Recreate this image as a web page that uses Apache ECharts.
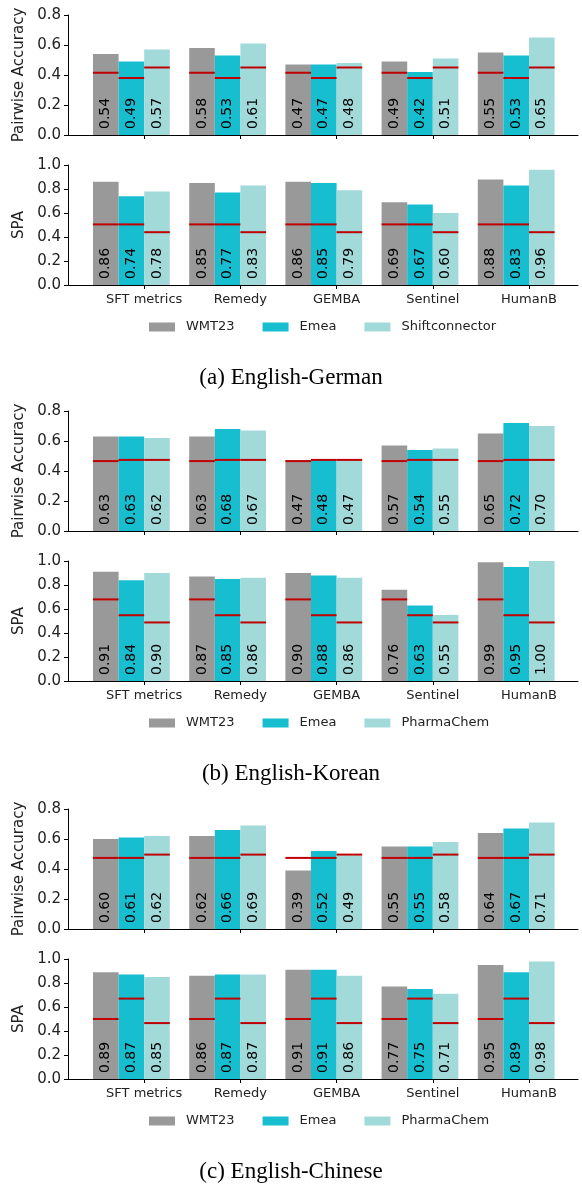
<!DOCTYPE html>
<html>
<head>
<meta charset="utf-8">
<title>Pairwise Accuracy and SPA by language pair</title>
<script src="https://cdn.jsdelivr.net/npm/echarts@6.0.0/dist/echarts.min.js"></script>
<style>
html, body { margin: 0; padding: 0; background: #fff; }
#chart { width: 582px; height: 1184px; }
</style>
</head>
<body>
<div id="chart"></div>
<script>
const categories = ['SFT metrics', 'Remedy', 'GEMBA', 'Sentinel', 'HumanB'];
const namesDe = ['WMT23', 'Emea', 'Shiftconnector'];
const namesKoZh = ['WMT23', 'Emea', 'PharmaChem'];
const colors = ['#999999', '#17becf', '#a2dada'];

// (a) English-German
const dePairWmt = [0.54, 0.58, 0.47, 0.49, 0.55];
const dePairEmea = [0.49, 0.53, 0.47, 0.42, 0.53];
const dePairShift = [0.57, 0.61, 0.48, 0.51, 0.65];
const dePairRef = [0.415, 0.38, 0.45];
const deSpaWmt = [0.86, 0.85, 0.86, 0.69, 0.88];
const deSpaEmea = [0.74, 0.77, 0.85, 0.67, 0.83];
const deSpaShift = [0.78, 0.83, 0.79, 0.60, 0.96];
const deSpaRef = [0.505, 0.505, 0.44];

// (b) English-Korean
const koPairWmt = [0.63, 0.63, 0.47, 0.57, 0.65];
const koPairEmea = [0.63, 0.68, 0.48, 0.54, 0.72];
const koPairPharma = [0.62, 0.67, 0.47, 0.55, 0.70];
const koPairRef = [0.466, 0.474, 0.474];
const koSpaWmt = [0.91, 0.87, 0.90, 0.76, 0.99];
const koSpaEmea = [0.84, 0.85, 0.88, 0.63, 0.95];
const koSpaPharma = [0.90, 0.86, 0.86, 0.55, 1.00];
const koSpaRef = [0.68, 0.548, 0.488];

// (c) English-Chinese
const zhPairWmt = [0.60, 0.62, 0.39, 0.55, 0.64];
const zhPairEmea = [0.61, 0.66, 0.52, 0.55, 0.67];
const zhPairPharma = [0.62, 0.69, 0.49, 0.58, 0.71];
const zhPairRef = [0.474, 0.474, 0.496];
const zhSpaWmt = [0.89, 0.86, 0.91, 0.77, 0.95];
const zhSpaEmea = [0.87, 0.87, 0.91, 0.75, 0.89];
const zhSpaPharma = [0.85, 0.87, 0.86, 0.71, 0.98];
const zhSpaRef = [0.50, 0.67, 0.466];

const panels = [
  { caption: '(a) English-German', names: namesDe, dy: 0,
    pair: [dePairWmt, dePairEmea, dePairShift], pairRef: dePairRef,
    spa: [deSpaWmt, deSpaEmea, deSpaShift], spaRef: deSpaRef },
  { caption: '(b) English-Korean', names: namesKoZh, dy: 396,
    pair: [koPairWmt, koPairEmea, koPairPharma], pairRef: koPairRef,
    spa: [koSpaWmt, koSpaEmea, koSpaPharma], spaRef: koSpaRef },
  { caption: '(c) English-Chinese', names: namesKoZh, dy: 794,
    pair: [zhPairWmt, zhPairEmea, zhPairPharma], pairRef: zhPairRef,
    spa: [zhSpaWmt, zhSpaEmea, zhSpaPharma], spaRef: zhSpaRef }
];

// layout (px)
const FRAME_LEFT = 68, FRAME_W = 510;
const BAR_LEFT = 83.3, BAND_W = 481, BAR_W = 25.6;
const TICK_LEFT = BAR_LEFT + BAR_W / 2;
const PLOT_H = 120;

const grid = [], xAxis = [], yAxis = [], series = [], legend = [], title = [];

function refLine(slot) {
  return function (params, api) {
    const p = api.coord([api.value(0), api.value(1)]);
    const x0 = p[0] + (slot - 1.5) * BAR_W;
    return {
      type: 'line',
      shape: { x1: x0, y1: p[1], x2: x0 + BAR_W, y2: p[1] },
      style: { stroke: '#c00000', lineWidth: 2 }
    };
  };
}

function addPlot(top, yMax, yName, values, refs, names, showLabels) {
  const g = grid.length;
  // frame: y axis + bottom spine
  grid.push({ left: FRAME_LEFT, top: top, width: FRAME_W, height: PLOT_H });
  xAxis.push({ gridIndex: g, type: 'category', data: categories,
    axisLine: { lineStyle: { color: '#000', width: 1 } },
    axisTick: { show: false }, axisLabel: { show: false } });
  yAxis.push({ gridIndex: g, type: 'value', min: 0, max: yMax, interval: 0.2,
    axisLine: { show: true, lineStyle: { color: '#000', width: 1 } },
    axisTick: { show: true, length: 4, lineStyle: { color: '#000' } },
    axisLabel: { fontSize: 15, color: '#222', margin: 7, formatter: v => v.toFixed(1) },
    splitLine: { show: false },
    name: yName, nameLocation: 'middle', nameGap: 36,
    nameTextStyle: { fontSize: 15, color: '#222' } });

  // bars
  grid.push({ left: BAR_LEFT, top: top, width: BAND_W, height: PLOT_H });
  xAxis.push({ gridIndex: g + 1, type: 'category', data: categories, show: false });
  yAxis.push({ gridIndex: g + 1, type: 'value', min: 0, max: yMax, show: false });
  values.forEach((vals, j) => {
    series.push({
      name: names[j], type: 'bar', xAxisIndex: g + 1, yAxisIndex: g + 1,
      data: vals, barWidth: BAR_W, barGap: '0%',
      itemStyle: { color: colors[j] },
      label: { show: true, position: 'insideBottom', rotate: 90, align: 'left',
        verticalAlign: 'middle', distance: 6, fontSize: 14, color: '#000',
        formatter: p => p.value.toFixed(2) },
      emphasis: { disabled: true }
    });
  });
  refs.forEach((lvl, j) => {
    series.push({
      name: 'ref-' + j, type: 'custom', xAxisIndex: g + 1, yAxisIndex: g + 1,
      data: categories.map(c => [c, lvl]), renderItem: refLine(j), z: 5
    });
  });

  // ticks + category labels
  grid.push({ left: TICK_LEFT, top: top, width: BAND_W, height: PLOT_H });
  xAxis.push({ gridIndex: g + 2, type: 'category', data: categories,
    axisLine: { show: false },
    axisTick: { show: true, alignWithLabel: true, interval: 0, length: 4, lineStyle: { color: '#000' } },
    axisLabel: { show: showLabels, interval: 0, fontSize: 13, color: '#222', margin: 8 } });
  yAxis.push({ gridIndex: g + 2, type: 'value', min: 0, max: yMax, show: false });
}

panels.forEach(p => {
  addPlot(15 + p.dy, 0.8, 'Pairwise Accuracy', p.pair, p.pairRef, p.names, false);
  addPlot(165 + p.dy, 1.0, 'SPA', p.spa, p.spaRef, p.names, true);
  legend.push({ data: p.names, left: 149, top: 320.5 + p.dy, padding: 0,
    icon: 'rect', itemWidth: 26, itemHeight: 9, itemGap: 28,
    textStyle: { fontSize: 13, color: '#222', padding: [0, 0, 0, 6] } });
  title.push({ text: p.caption, left: 'center', top: 366 + p.dy, padding: 0,
    textStyle: { fontFamily: 'Liberation Serif', fontSize: 23, fontWeight: 'normal', color: '#000' } });
});

const chart = echarts.init(document.getElementById('chart'));
chart.setOption({
  animation: false,
  textStyle: { fontFamily: 'DejaVu Sans' },
  title: title,
  legend: legend,
  grid: grid,
  xAxis: xAxis,
  yAxis: yAxis,
  series: series
});
</script>
</body>
</html>
